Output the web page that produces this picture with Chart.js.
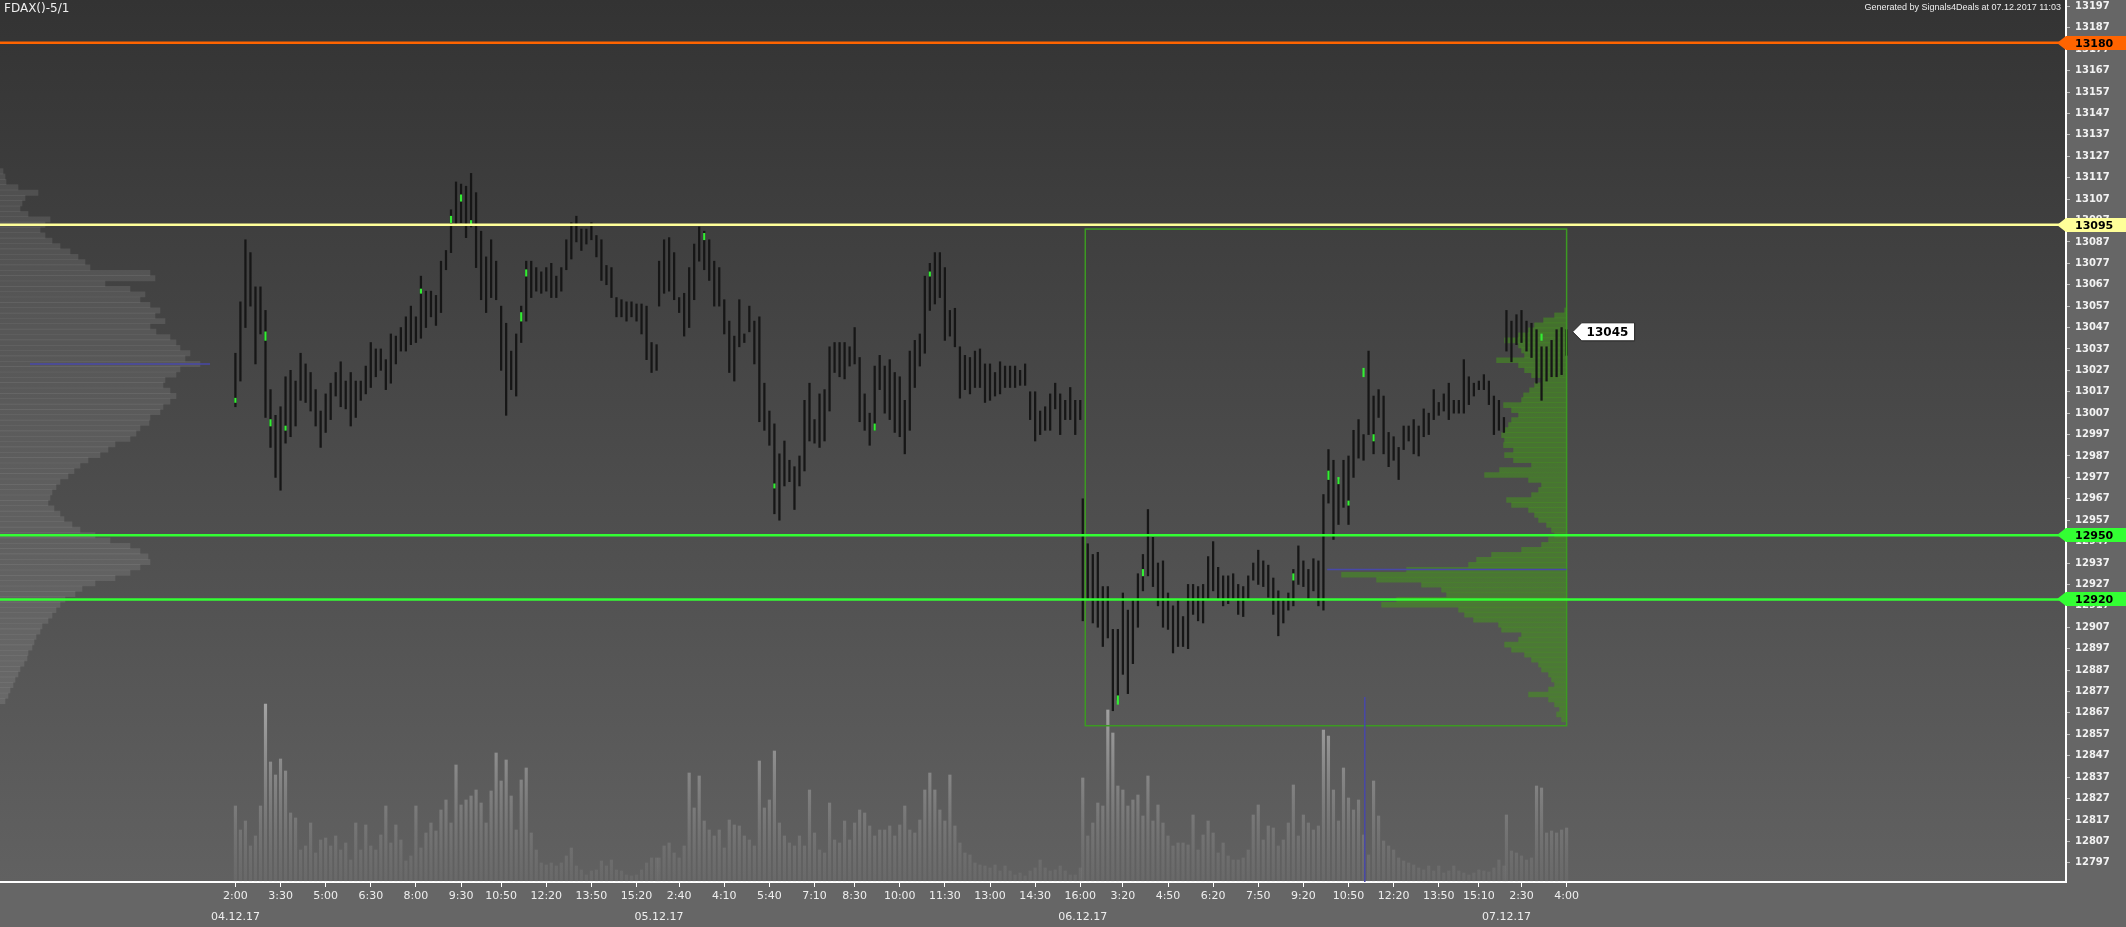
<!DOCTYPE html>
<html>
<head>
<meta charset="utf-8">
<script src="https://cdn.jsdelivr.net/npm/chart.js@4.4.1/dist/chart.umd.min.js"></script>
<style>
html, body { margin: 0; padding: 0; background: #666; }
#wrap { width: 2126px; height: 927px; position: relative; }
</style>
</head>
<body>
<div id="wrap"><canvas id="chart"></canvas></div>
<script>
// 5-minute bars, two bars per entry; each session starts at its own bar index
const sessionStart = [0, 169, 338, 507]
const barStep = 2
const dayLabels = ["04.12.17", "05.12.17", "06.12.17", "07.12.17"]

const tickIdx = [0, 18, 36, 54, 72, 90, 106, 124, 142, 160, 177, 195, 213, 231, 247, 265, 283, 301, 319, 337,
    354, 372, 390, 408, 426, 444, 462, 480, 496, 513, 531]
const tickLabels = ["2:00", "3:30", "5:00", "6:30", "8:00", "9:30", "10:50", "12:20", "13:50", "15:20",
    "2:40", "4:10", "5:40", "7:10", "8:30", "10:00", "11:30", "13:00", "14:30", "16:00",
    "3:20", "4:50", "6:20", "7:50", "9:20", "10:50", "12:20", "13:50", "15:10", "2:30", "4:00"]
const priceTicks = [12797, 12807, 12817, 12827, 12837, 12847, 12857, 12867, 12877, 12887, 12897, 12907, 12917,
    12927, 12937, 12947, 12957, 12967, 12977, 12987, 12997, 13007, 13017, 13027, 13037, 13047, 13057, 13067,
    13077, 13087, 13097, 13107, 13117, 13127, 13137, 13147, 13157, 13167, 13177, 13187, 13197]

// 04.12.17
const high1 = [13035, 13059, 13088, 13082, 13066, 13066, 13055, 13018, 13006, 13010,
    13024, 13027, 13022, 13035, 13030, 13026, 13018, 13008, 13016, 13021,
    13026, 13031, 13022, 13026, 13022, 13022, 13029, 13040, 13037, 13037,
    13032, 13044, 13043, 13047, 13052, 13057, 13052, 13071, 13064, 13064,
    13062, 13078, 13083, 13102, 13115, 13114, 13113, 13119, 13110, 13092,
    13080, 13088, 13078, 13057, 13049, 13036, 13044, 13057, 13078, 13078,
    13075, 13073, 13075, 13077, 13071, 13075, 13088, 13096, 13099, 13093,
    13093, 13096, 13090, 13088, 13076, 13075, 13061, 13060, 13059, 13059,
    13058, 13058, 13057, 13040, 13039]
const low1 = [13010, 13022, 13047, 13057, 13030, 13044, 13005, 12991, 12977, 12971,
    12993, 12996, 13001, 13013, 13012, 13008, 13001, 12991, 12998, 13004,
    13015, 13010, 13009, 13001, 13005, 13013, 13016, 13019, 13024, 13027,
    13018, 13021, 13030, 13036, 13036, 13039, 13040, 13042, 13047, 13052,
    13048, 13054, 13074, 13082, 13095, 13096, 13089, 13094, 13075, 13060,
    13054, 13061, 13060, 13027, 13006, 13018, 13015, 13040, 13050, 13061,
    13064, 13063, 13064, 13061, 13061, 13064, 13074, 13079, 13087, 13083,
    13086, 13088, 13080, 13069, 13067, 13061, 13052, 13052, 13050, 13052,
    13050, 13044, 13032, 13026, 13027]
const vol1 = [76, 52, 61, 36, 46, 76, 178, 120, 107, 123,
    111, 69, 64, 32, 36, 59, 29, 42, 44, 36,
    46, 32, 39, 22, 59, 32, 57, 36, 32, 47,
    76, 39, 57, 42, 21, 26, 76, 34, 49, 59,
    51, 72, 82, 59, 117, 77, 82, 86, 92, 79,
    59, 91, 129, 101, 122, 86, 52, 102, 114, 49,
    32, 19, 17, 19, 16, 19, 26, 34, 16, 12,
    7, 11, 12, 21, 16, 22, 12, 11, 7, 6,
    7, 12, 19, 24, 24]

// 05.12.17
const high2 = [13078, 13088, 13089, 13082, 13061, 13063, 13075, 13086, 13094, 13092,
    13088, 13078, 13075, 13060, 13050, 13043, 13060, 13044, 13057, 13050,
    13052, 13021, 13008, 13002, 12988, 12994, 12985, 12982, 12987, 13013,
    13021, 13004, 13016, 13018, 13038, 13040, 13040, 13040, 13038, 13047,
    13033, 13016, 13007, 13029, 13034, 13029, 13032, 13026, 13024, 13013,
    13036, 13041, 13044, 13071, 13077, 13082, 13082, 13075, 13055, 13056,
    13038, 13034, 13033, 13036, 13037, 13030, 13030, 13026, 13031, 13029,
    13029, 13029, 13027, 13030, 13017, 13017, 13008, 13010, 13016, 13021,
    13016, 13013, 13019, 13013, 13013]
const low2 = [13057, 13063, 13064, 13060, 13054, 13043, 13047, 13060, 13078, 13074,
    13069, 13057, 13057, 13044, 13026, 13022, 13038, 13040, 13045, 13030,
    13003, 12999, 12992, 12960, 12957, 12973, 12975, 12962, 12973, 12980,
    12994, 12993, 12991, 12994, 13008, 13026, 13024, 13023, 13029, 13030,
    13003, 12999, 12992, 12999, 13018, 13007, 13004, 12998, 12996, 12988,
    12999, 13019, 13029, 13035, 13055, 13058, 13061, 13041, 13043, 13038,
    13014, 13018, 13016, 13019, 13019, 13012, 13013, 13015, 13016, 13019,
    13019, 13019, 13020, 13020, 13004, 12994, 12997, 12999, 12999, 13009,
    12997, 13004, 13004, 12997, 13004]
const vol2 = [24, 36, 39, 29, 24, 36, 109, 74, 106, 61,
    52, 46, 52, 34, 62, 57, 56, 46, 42, 36,
    121, 74, 82, 131, 59, 46, 39, 36, 46, 36,
    92, 49, 32, 29, 79, 42, 39, 61, 42, 59,
    72, 69, 56, 46, 52, 52, 56, 46, 57, 76,
    52, 49, 62, 92, 109, 92, 72, 61, 107, 56,
    39, 29, 27, 19, 17, 16, 14, 17, 11, 16,
    11, 7, 9, 6, 11, 14, 22, 14, 11, 12,
    16, 11, 7, 7, 14]

// 06.12.17
const high3 = [12967, 12946, 12941, 12942, 12926, 12926, 12906, 12906, 12923, 12915,
    12920, 12932, 12941, 12962, 12949, 12937, 12938, 12923, 12917, 12920,
    12912, 12927, 12927, 12926, 12927, 12940, 12947, 12935, 12931, 12931,
    12932, 12927, 12926, 12931, 12937, 12943, 12938, 12936, 12930, 12924,
    12920, 12923, 12934, 12945, 12938, 12934, 12939, 12938, 12969, 12990,
    12985, 12976, 12985, 12987, 12999, 13004, 12997, 13036, 13015, 13018,
    13015, 12998, 12996, 12991, 13001, 13001, 13004, 13001, 13009, 13007,
    13018, 13012, 13016, 13021, 13013, 13013, 13032, 13024, 13021, 13022,
    13025, 13022, 13015, 13013, 13005]
const low3 = [12910, 12920, 12909, 12907, 12898, 12902, 12868, 12873, 12885, 12876,
    12890, 12907, 12924, 12931, 12926, 12917, 12907, 12906, 12895, 12898,
    12898, 12897, 12913, 12910, 12909, 12920, 12924, 12920, 12917, 12918,
    12920, 12913, 12912, 12920, 12929, 12927, 12926, 12921, 12913, 12903,
    12909, 12915, 12917, 12927, 12926, 12920, 12924, 12917, 12915, 12965,
    12948, 12955, 12963, 12955, 12977, 12986, 12985, 12997, 12988, 13005,
    12988, 12982, 12985, 12976, 12990, 12994, 12988, 12987, 12996, 12997,
    13004, 13006, 13008, 13004, 13007, 13007, 13007, 13011, 13015, 13018,
    13018, 13011, 12997, 12999, 12998]
const vol3 = [104, 46, 59, 79, 76, 172, 149, 96, 92, 76,
    82, 87, 66, 106, 61, 77, 59, 46, 36, 39,
    39, 37, 67, 32, 47, 61, 49, 29, 39, 26,
    22, 22, 24, 32, 67, 77, 42, 56, 54, 36,
    42, 59, 97, 46, 67, 59, 52, 56, 152, 146,
    92, 61, 114, 84, 72, 82, 47, 27, 101, 66,
    41, 36, 32, 24, 21, 19, 17, 14, 12, 16,
    11, 16, 9, 11, 16, 11, 9, 7, 9, 12,
    11, 10, 14, 22, 16]

// 07.12.17
const high4 = [13055, 13050, 13053, 13055, 13050, 13049, 13046, 13038, 13038, 13041, 13046, 13047, 13046]
const low4 = [13036, 13031, 13039, 13040, 13036, 13033, 13021, 13013, 13022, 13024, 13024, 13025, 13034]
const vol4 = [67, 31, 29, 26, 22, 24, 96, 94, 49, 51, 49, 52, 54]

// highlighted (green) bar segments
const greenIdx = [0, 12, 14, 20, 74, 86, 90, 94, 114, 116, 187, 215, 255, 277, 352, 362, 422, 436, 440, 444, 450, 454, 521]
const greenLow = [13012, 13041, 13001, 12999, 13063, 13096, 13106, 13095, 13050, 13071, 13088, 12972, 12999, 13071,
    12871, 12931, 12929, 12976, 12974, 12964, 13024, 12994, 13041]
const greenHigh = [13014, 13045, 13004, 13001, 13065, 13099, 13109, 13097, 13054, 13074, 13091, 12974, 13002, 13073,
    12875, 12934, 12932, 12980, 12977, 12966, 13028, 12997, 13044]

// volume profile, all sessions (left) - price levels from top
const leftProfileTop = 13120
const leftProfileStep = 2.5
const leftProfile = [3, 5, 6, 18, 38, 25, 22, 20, 28, 50,
    45, 40, 45, 52, 60, 70, 78, 85, 90, 150,
    155, 105, 130, 145, 140, 150, 160, 155, 165, 150,
    156, 170, 176, 180, 190, 185, 200, 180, 176, 165,
    163, 170, 176, 170, 163, 160, 150, 149, 140, 136,
    130, 115, 108, 100, 88, 80, 74, 68, 60, 56,
    52, 50, 48, 54, 60, 64, 72, 80, 95, 110,
    130, 140, 148, 150, 140, 130, 115, 95, 82, 75,
    65, 60, 56, 52, 48, 42, 40, 36, 34, 32,
    28, 27, 24, 20, 18, 15, 13, 10, 8, 5]

// volume profile of the boxed range (right)
const rightProfileTop = 13055
const rightProfileStep = 2.33
const rightProfile = [2, 12, 23, 32, 38, 48, 62, 48, 45, 42,
    70, 48, 42, 35, 25, 32, 37, 43, 45, 63,
    55, 48, 55, 58, 62, 65, 62, 63, 53, 62,
    53, 35, 67, 82, 38, 25, 28, 35, 60, 55,
    38, 32, 28, 20, 15, 12, 18, 25, 45, 75,
    90, 98, 160, 225, 190, 145, 125, 120, 170, 185,
    108, 102, 93, 68, 65, 45, 48, 62, 55, 42,
    35, 28, 25, 18, 15, 12, 18, 38, 18, 12,
    7, 10, 5]

const levelPrices = [13180, 13095, 12950, 12920]
const levelColors = ["#ff6400", "#ffff99", "#33ff33", "#33ff33"]
const lastPrice = 13045
const lastIndex = 531
const boxFrom = 339, boxTo = 531, boxHigh = 13093, boxLow = 12861
const pocRightPrice = 12934, pocRightFrom = 435.5
const pocLeftPrice = 13030, pocLeftFrom = 30, pocLeftTo = 210
const volMarkIndex = 450.5, volMarkHeight = 185

// time axis window (bar index) and the plot width it covers, used to size profile rows
const xMin = -93.9, xMax = 730.2, plotWidth = 2066
const profileUnit = (xMax - xMin) / plotWidth

const highs = [high1, high2, high3, high4]
const lows = [low1, low2, low3, low4]
const vols = [vol1, vol2, vol3, vol4]

let candleData = [], volumeData = []
highs.forEach((hs, d) => {
    hs.forEach((h, i) => {
        let x = sessionStart[d] + i * barStep
        candleData.push({ x: x, y: [lows[d][i], h] })
        volumeData.push({ x: x, y: vols[d][i] })
    })
})
const greenData = greenIdx.map((x, i) => ({ x: x, y: [greenLow[i], greenHigh[i]] }))
const leftProfileData = leftProfile.map((w, i) => ({
    x: [xMin, xMin + w * profileUnit], y: leftProfileTop - i * leftProfileStep
}))
const rightProfileData = rightProfile.map((w, i) => ({
    x: [boxTo - w * profileUnit, boxTo], y: rightProfileTop - i * rightProfileStep
}))

let volGradient = null
function volumeColor(c) {
    const chart = c.chart
    if (!chart.chartArea) return "rgba(180,180,180,0.5)"
    if (!volGradient) {
        const yv = chart.scales.yv
        volGradient = chart.ctx.createLinearGradient(0, yv.getPixelForValue(190), 0, chart.chartArea.bottom)
        volGradient.addColorStop(0, "rgba(205,205,205,0.7)")
        volGradient.addColorStop(1, "rgba(160,160,160,0.12)")
    }
    return volGradient
}

const decor = {
    id: "decor",
    beforeDraw(chart) {
        const { ctx, chartArea: a } = chart
        ctx.save()
        ctx.fillStyle = "#666666"
        ctx.fillRect(0, 0, chart.width, chart.height)
        const g = ctx.createLinearGradient(0, a.top, 0, a.bottom)
        g.addColorStop(0, "#333333")
        g.addColorStop(1, "#616161")
        ctx.fillStyle = g
        ctx.fillRect(a.left, a.top, a.right - a.left, a.bottom - a.top)
        ctx.restore()
    },
    afterDatasetsDraw(chart) {
        const { ctx, chartArea: a, scales } = chart
        const x = scales.x, y = scales.y, yv = scales.yv
        ctx.save()
        ctx.beginPath()
        ctx.rect(a.left, a.top, a.right - a.left, a.bottom - a.top)
        ctx.clip()

        // box of the last sessions
        let bx0 = x.getPixelForValue(boxFrom), bx1 = x.getPixelForValue(boxTo)
        let by0 = y.getPixelForValue(boxHigh), by1 = y.getPixelForValue(boxLow)
        ctx.strokeStyle = "#3c9a22"
        ctx.lineWidth = 1.5
        ctx.strokeRect(bx0, by0, bx1 - bx0, by1 - by0)

        // point of control lines
        ctx.strokeStyle = "#4848a8"
        ctx.lineWidth = 1.5
        ctx.beginPath()
        let py = y.getPixelForValue(pocLeftPrice)
        ctx.moveTo(x.getPixelForValue(xMin + pocLeftFrom * profileUnit), py)
        ctx.lineTo(x.getPixelForValue(xMin + pocLeftTo * profileUnit), py)
        py = y.getPixelForValue(pocRightPrice)
        ctx.moveTo(x.getPixelForValue(pocRightFrom), py)
        ctx.lineTo(bx1, py)
        let vx = x.getPixelForValue(volMarkIndex)
        ctx.moveTo(vx, yv.getPixelForValue(volMarkHeight))
        ctx.lineTo(vx, yv.getPixelForValue(0))
        ctx.stroke()

        // price levels
        ctx.lineWidth = 2.5
        levelPrices.forEach((p, i) => {
            let ly = y.getPixelForValue(p)
            ctx.strokeStyle = levelColors[i]
            ctx.beginPath()
            ctx.moveTo(a.left, ly)
            ctx.lineTo(a.right, ly)
            ctx.stroke()
        })
        ctx.restore()
    },
    afterDraw(chart) {
        const { ctx, chartArea: a, scales } = chart
        const x = scales.x, y = scales.y
        ctx.save()

        // level tags on the price axis
        ctx.font = "bold 11px 'DejaVu Sans'"
        ctx.textBaseline = "middle"
        ctx.textAlign = "left"
        levelPrices.forEach((p, i) => {
            let ly = Math.round(y.getPixelForValue(p))
            ctx.fillStyle = levelColors[i]
            ctx.beginPath()
            ctx.moveTo(a.right - 9, ly)
            ctx.lineTo(a.right, ly - 7)
            ctx.lineTo(chart.width, ly - 7)
            ctx.lineTo(chart.width, ly + 7)
            ctx.lineTo(a.right, ly + 7)
            ctx.closePath()
            ctx.fill()
            ctx.fillStyle = "#000000"
            ctx.fillText(String(p), a.right + 9, ly + 1)
        })

        // last price tag
        let tx = x.getPixelForValue(lastIndex) + 6, ty = y.getPixelForValue(lastPrice)
        ctx.fillStyle = "#ffffff"
        ctx.strokeStyle = "#222222"
        ctx.lineWidth = 1
        ctx.beginPath()
        ctx.moveTo(tx, ty)
        ctx.lineTo(tx + 9, ty - 9)
        ctx.lineTo(tx + 62, ty - 9)
        ctx.lineTo(tx + 62, ty + 9)
        ctx.lineTo(tx + 9, ty + 9)
        ctx.closePath()
        ctx.fill()
        ctx.stroke()
        ctx.fillStyle = "#000000"
        ctx.font = "bold 12px 'DejaVu Sans'"
        ctx.fillText(String(lastPrice), tx + 14, ty + 1)

        // day labels under the time axis
        ctx.fillStyle = "#eeeeee"
        ctx.font = "11px 'DejaVu Sans'"
        ctx.textAlign = "center"
        sessionStart.forEach((s, i) => {
            ctx.fillText(dayLabels[i], x.getPixelForValue(s), 917)
        })

        // header texts
        ctx.textBaseline = "top"
        ctx.textAlign = "left"
        ctx.font = "12px 'DejaVu Sans'"
        ctx.fillStyle = "#eeeeee"
        ctx.fillText("FDAX()-5/1", 4, 3)
        ctx.textAlign = "right"
        ctx.font = "9px 'Liberation Sans'"
        ctx.fillText("Generated by Signals4Deals at 07.12.2017 11:03", a.right - 5, 3)
        ctx.restore()
    }
}

new Chart(
    document.getElementById("chart").getContext("2d"),
    {
        type: "bar",
        data: {
            datasets: [
                {
                    label: "Highlight",
                    data: greenData,
                    backgroundColor: "#33ee33",
                    barThickness: 1.5,
                    grouped: false,
                    order: -1
                },
                {
                    label: "FDAX",
                    data: candleData,
                    backgroundColor: "#161616",
                    barThickness: 1.6,
                    grouped: false,
                    order: 0
                },
                {
                    label: "Volume",
                    data: volumeData,
                    yAxisID: "yv",
                    backgroundColor: volumeColor,
                    barThickness: 2.5,
                    grouped: false,
                    order: 3
                },
                {
                    label: "Profile",
                    data: leftProfileData,
                    indexAxis: "y",
                    xAxisID: "x",
                    yAxisID: "y",
                    backgroundColor: "rgba(255,255,255,0.1)",
                    barThickness: 5.3,
                    grouped: false,
                    order: 4
                },
                {
                    label: "Range profile",
                    data: rightProfileData,
                    indexAxis: "y",
                    xAxisID: "x",
                    yAxisID: "y",
                    backgroundColor: "rgba(70,150,30,0.55)",
                    barThickness: 5,
                    grouped: false,
                    order: 4
                }
            ]
        },
        options: {
            responsive: true,
            maintainAspectRatio: false,
            animation: false,
            layout: { padding: 0 },
            plugins: {
                legend: { display: false },
                tooltip: { enabled: false }
            },
            scales: {
                x: {
                    type: "linear",
                    position: "bottom",
                    min: xMin,
                    max: xMax,
                    offset: false,
                    afterBuildTicks: s => { s.ticks = tickIdx.map(v => ({ value: v })) },
                    afterFit: s => { s.height = 45; s.paddingLeft = 0; s.paddingRight = 0 },
                    ticks: {
                        autoSkip: false,
                        maxRotation: 0,
                        color: "#eeeeee",
                        font: { family: "DejaVu Sans", size: 11 },
                        padding: 3,
                        callback: (v, i) => tickLabels[i]
                    },
                    grid: { drawOnChartArea: false, offset: false, tickLength: 5, color: "#ffffff" },
                    border: { color: "#ffffff", width: 2 }
                },
                y: {
                    type: "linear",
                    position: "right",
                    min: 12788,
                    max: 13200,
                    offset: false,
                    afterBuildTicks: s => { s.ticks = priceTicks.map(v => ({ value: v })) },
                    afterFit: s => { s.width = 60; s.paddingTop = 0; s.paddingBottom = 0 },
                    ticks: {
                        autoSkip: false,
                        color: "#f2f2f2",
                        font: { family: "DejaVu Sans", size: 10, weight: "bold" },
                        padding: 5,
                        callback: v => String(v)
                    },
                    grid: { drawOnChartArea: false, offset: false, tickLength: 4, color: "#bbbbbb" },
                    border: { color: "#ffffff", width: 2 }
                },
                yv: { type: "linear", display: false, min: 0, max: 882 }
            }
        },
        plugins: [decor]
    }
)
</script>
</body>
</html>
